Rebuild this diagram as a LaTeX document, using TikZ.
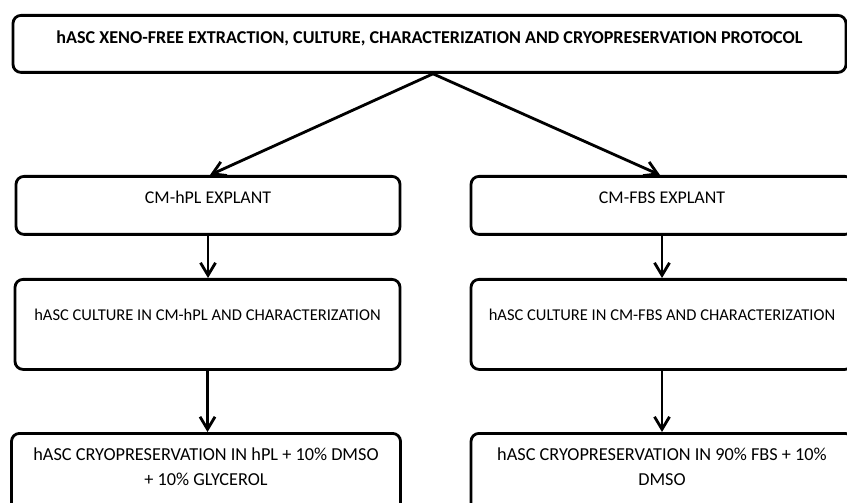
\documentclass[tikz,border=0pt]{standalone}
\usepackage{fontspec}
\setmainfont{Carlito}
\usetikzlibrary{arrows.meta}

\begin{document}
\begin{tikzpicture}[>={Straight Barb[length=2.5mm,width=3mm]},
  font=\fontsize{9.4}{14.2}\selectfont,line cap=round,
  box/.style={draw,line width=1.6pt,rounded corners=0.16cm,anchor=north,
    inner ysep=0pt,inner xsep=2pt,align=center},
  link/.style={->,line width=1.6pt}]
\useasboundingbox (0,0) rectangle (16.94,10.04);
\clip (0,0) rectangle (16.94,10.04);
\node[box,minimum width=16.66cm,text height=0.56cm,text depth=0.58cm,font=\fontsize{10.3}{14.2}\selectfont\bfseries]
  (top) at (8.59,9.76) {hASC XENO-FREE EXTRACTION, CULTURE, CHARACTERIZATION AND CRYOPRESERVATION PROTOCOL};
% left branch
\node[box,minimum width=7.68cm,text height=0.54cm,text depth=0.62cm,font=\fontsize{10.2}{14.2}\selectfont] (hpl1) at (4.16,6.54) {CM-hPL EXPLANT};
\node[box,minimum width=7.7cm,text height=0.82cm,text depth=0.98cm] (hpl2) at (4.15,4.48) {hASC CULTURE IN CM-hPL AND CHARACTERIZATION};
\node[box,minimum width=7.78cm,text height=1.04cm,text depth=0.72cm,font=\fontsize{10.4}{14.2}\selectfont] (hpl3) at (4.12,1.40) {hASC CRYOPRESERVATION IN hPL + 10\% DMSO\\+ 10\% GLYCEROL};
% right branch
\node[box,minimum width=7.64cm,text height=0.54cm,text depth=0.62cm,font=\fontsize{10.2}{14.2}\selectfont] (fbs1) at (13.24,6.54) {CM-FBS EXPLANT};
\node[box,minimum width=7.64cm,text height=0.82cm,text depth=0.98cm] (fbs2) at (13.24,4.48) {hASC CULTURE IN CM-FBS AND CHARACTERIZATION};
\node[box,minimum width=7.64cm,text height=1.04cm,text depth=0.72cm,font=\fontsize{10.4}{14.2}\selectfont] (fbs3) at (13.24,1.40) {hASC CRYOPRESERVATION IN 90\% FBS + 10\%\\DMSO};
\coordinate (apex) at ([xshift=0.07cm]top.south);
\draw[link] (apex) -- ([xshift=0.04cm]hpl1.north);
\draw[link] (apex) -- ([xshift=-0.04cm]fbs1.north);
\draw[link] (hpl1.south) -- (hpl1.south |- hpl2.north);
\draw[link] (hpl2.south) -- (hpl2.south |- hpl3.north);
\draw[link] (fbs1.south) -- (fbs1.south |- fbs2.north);
\draw[link] (fbs2.south) -- (fbs2.south |- fbs3.north);
\end{tikzpicture}
\end{document}
